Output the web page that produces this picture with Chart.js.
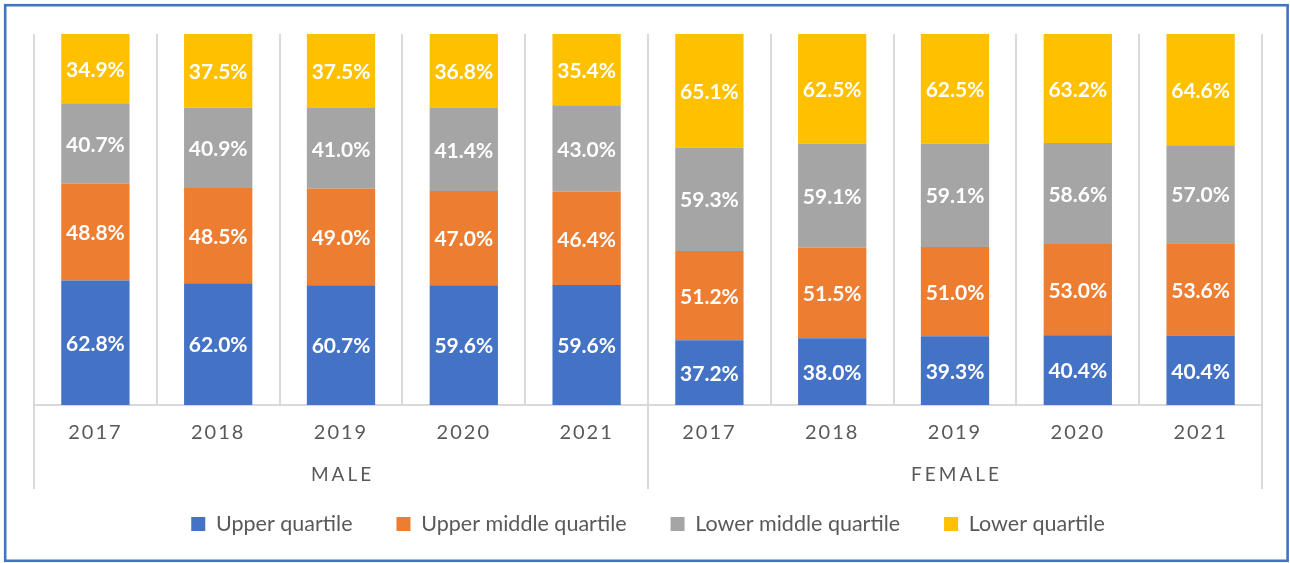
<!DOCTYPE html>
<html><head><meta charset="utf-8">
<style>html,body{margin:0;padding:0;background:#fff;}#wrap{position:relative;width:1290px;height:563px;}</style>
<script src="https://cdn.jsdelivr.net/npm/chart.js@4.4.1/dist/chart.umd.min.js"></script>
</head><body><div id="wrap"><canvas id="c" width="1290" height="563"></canvas></div>
<script>
const years = ['2017','2018','2019','2020','2021','2017','2018','2019','2020','2021'];
const groups = ['MALE','FEMALE'];
const groupSize = 5;
const seriesNames = ['Upper quartile','Upper middle quartile','Lower middle quartile','Lower quartile'];
const upperQuartile = [62.8,62.0,60.7,59.6,59.6,37.2,38.0,39.3,40.4,40.4];
const upperMiddleQuartile = [48.8,48.5,49.0,47.0,46.4,51.2,51.5,51.0,53.0,53.6];
const lowerMiddleQuartile = [40.7,40.9,41.0,41.4,43.0,59.3,59.1,59.1,58.6,57.0];
const lowerQuartile = [34.9,37.5,37.5,36.8,35.4,65.1,62.5,62.5,63.2,64.6];
const colors = ['#4472C4','#ED7D31','#A5A5A5','#FFC000'];

const raw = [upperQuartile, upperMiddleQuartile, lowerMiddleQuartile, lowerQuartile];
const totals = years.map((_, i) => raw.reduce((s, arr) => s + arr[i], 0));
const datasets = raw.map((arr, k) => ({
  label: seriesNames[k],
  data: arr.map((v, i) => v / totals[i] * 100),
  rawValues: arr,
  backgroundColor: colors[k],
  borderWidth: 0,
  categoryPercentage: 1,
  barPercentage: 0.556
}));

const FONT = 'Lato';
const LEG_FS = 21.5, LEG_PAD = 44;
const extras = {
  id: 'extras',
  afterDatasetsDraw(chart) {
    const ctx = chart.ctx;
    ctx.save();
    ctx.letterSpacing = '0px';
    ctx.font = 'bold 21px ' + FONT;
    ctx.fillStyle = '#FFFFFF';
    ctx.textAlign = 'center';
    ctx.textBaseline = 'middle';
    chart.data.datasets.forEach((ds, k) => {
      chart.getDatasetMeta(k).data.forEach((bar, i) => {
        const yMid = (bar.y + bar.base) / 2;
        ctx.fillText(ds.rawValues[i].toFixed(1) + '%', bar.x, yMid + 1.5);
      });
    });
    ctx.restore();
    ctx.letterSpacing = '2px';
  },
  afterDraw(chart) {
    const ctx = chart.ctx;
    const xs = chart.scales.x;
    const area = chart.chartArea;
    ctx.save();
    ctx.letterSpacing = '0px';
    ctx.strokeStyle = '#D9D9D9';
    ctx.lineWidth = 2;
    const n = years.length;
    const half = (xs.getPixelForValue(1) - xs.getPixelForValue(0)) / 2;
    for (let g = 0; g <= groups.length; g++) {
      const idx = g * groupSize;
      const x = idx < n ? xs.getPixelForValue(idx) - half : xs.getPixelForValue(n - 1) + half;
      ctx.beginPath();
      ctx.moveTo(x, area.bottom);
      ctx.lineTo(x, 489);
      ctx.stroke();
    }
    ctx.letterSpacing = '3px';
    ctx.font = '19px ' + FONT;
    ctx.fillStyle = '#595959';
    ctx.textAlign = 'center';
    ctx.textBaseline = 'middle';
    groups.forEach((name, g) => {
      const a = xs.getPixelForValue(g * groupSize);
      const b = xs.getPixelForValue(g * groupSize + groupSize - 1);
      ctx.fillText(name, (a + b) / 2 + 1.5, 475);
    });
    ctx.letterSpacing = '0px';
    ctx.strokeStyle = '#4472C4';
    ctx.lineWidth = 2.6;
    ctx.strokeRect(5.2, 5.2, 1282.4, 555.6);
    ctx.restore();
    ctx.letterSpacing = '0px';
  }
};

new Chart(document.getElementById('c'), {
  type: 'bar',
  data: { labels: years, datasets },
  options: {
    responsive: false,
    animation: false,
    events: [],
    layout: { padding: { left: 34, right: 28, top: 34, bottom: 18.25 } },
    scales: {
      x: {
        stacked: true,
        grid: { color: '#D9D9D9', lineWidth: 2, drawTicks: false, offset: true },
        border: { color: '#D9D9D9', width: 2 },
        ticks: { font: { family: FONT, size: 20 }, color: '#595959', padding: 16, z: 1, maxRotation: 0, autoSkip: false },
        afterFit(s) { s.height = 64.25; }
      },
      y: { stacked: true, display: false, min: 0, max: 100 }
    },
    plugins: {
      legend: {
        position: 'bottom',
        labels: { boxWidth: 14, boxHeight: 14, padding: LEG_PAD, color: '#595959', font: { family: FONT, size: LEG_FS } }
      },
      tooltip: { enabled: false }
    }
  },
  plugins: [extras]
});
</script>
</body></html>
